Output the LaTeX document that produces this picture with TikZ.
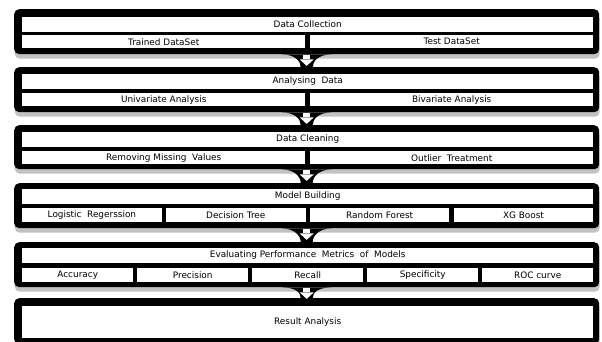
\documentclass[tikz,border=0pt]{standalone}
\usepackage{fontspec}
\setmainfont{DejaVu Sans}
\usetikzlibrary{shadows}

\begin{document}
\begin{tikzpicture}[x=1pt,y=-1pt,
        stage/.style={fill=black,rounded corners=5pt,anchor=north west,inner sep=0pt,
                minimum width=585pt,drop shadow={shadow xshift=0.5pt,shadow yshift=-4.5pt,fill=gray!80,opacity=0.6}},
        cell/.style={fill=white,anchor=north west,inner sep=0pt,font=\fontsize{8.9}{9}\selectfont},
        head/.style={cell,minimum width=571pt,minimum height=14.5pt}]
        \useasboundingbox (0,0) rectangle (602,342);
        % stage 1
        \node[stage,minimum height=45pt] (b1) at (14,9) {};
        \node[head] (t1) at (22,17) {Data Collection};
        \node[cell,minimum width=283pt,minimum height=13pt] (s11) at (22,35) {Trained DataSet};
        \node[cell,minimum width=283pt,minimum height=13pt] (s12) at (310,35) {Test DataSet};
        % stage 2
        \node[stage,minimum height=45pt] (b2) at (14,67) {};
        \node[head] (t2) at (22,74) {Analysing\ \ Data};
        \node[cell,minimum width=283pt,minimum height=13pt] (s21) at (22,93) {Univariate Analysis};
        \node[cell,minimum width=283pt,minimum height=13pt] (s22) at (310,93) {Bivariate Analysis};
        % stage 3
        \node[stage,minimum height=44pt] (b3) at (14,125) {};
        \node[head] (t3) at (22,132) {Data Cleaning};
        \node[cell,minimum width=283pt,minimum height=13pt] (s31) at (22,151) {Removing Missing\ \ Values};
        \node[cell,minimum width=283pt,minimum height=13pt] (s32) at (310,151) {Outlier\ \ Treatment};
        % stage 4
        \node[stage,minimum height=45pt] (b4) at (14,183) {};
        \node[head] (t4) at (22,189) {Model Building};
        \node[cell,minimum width=139.4pt,minimum height=14pt] (s41) at (22,208) {Logistic\ \ Regerssion};
        \node[cell,minimum width=139.4pt,minimum height=14pt] (s42) at (165.9,208) {Decision Tree};
        \node[cell,minimum width=139.4pt,minimum height=14pt] (s43) at (309.8,208) {Random Forest};
        \node[cell,minimum width=139.4pt,minimum height=14pt] (s44) at (453.6,208) {XG Boost};
        % stage 5
        \node[stage,minimum height=45pt] (b5) at (14,242) {};
        \node[head] (t5) at (22,248) {Evaluating Performance\ \ Metrics\ \ of\ \ Models};
        \node[cell,minimum width=111pt,minimum height=14pt] (s51) at (22,268) {Accuracy};
        \node[cell,minimum width=111pt,minimum height=14pt] (s52) at (137,268) {Precision};
        \node[cell,minimum width=111pt,minimum height=14pt] (s53) at (252,268) {Recall};
        \node[cell,minimum width=111pt,minimum height=14pt] (s54) at (367,268) {Specificity};
        \node[cell,minimum width=111pt,minimum height=14pt] (s55) at (482,268) {ROC curve};
        % stage 6
        \node[stage,minimum height=46pt] (b6) at (14,298) {};
        \node[cell,minimum width=571pt,minimum height=32pt] (t6) at (22,306) {Result Analysis};
        % arrows between stages
        \foreach \a/\b in {b1/b2,b2/b3,b3/b4,b4/b5,b5/b6}{
            \fill[black] ([xshift=-25pt]\a.south) .. controls +(13,0) and +(0,-6) .. ([xshift=-6pt]\b.north)
                -- ([xshift=6pt]\b.north) .. controls +(0,-6) and +(-13,0) .. ([xshift=25pt]\a.south) -- cycle;
            \fill[white] ([xshift=-3.5pt,yshift=-1pt]\a.south) rectangle ([xshift=3.5pt,yshift=-5pt]\a.south);
            \fill[white] ([xshift=-7pt,yshift=-5pt]\a.south) -- ([xshift=7pt,yshift=-5pt]\a.south)
                -- ([yshift=-11.5pt]\a.south) -- cycle;
        }
\end{tikzpicture}
\end{document}
